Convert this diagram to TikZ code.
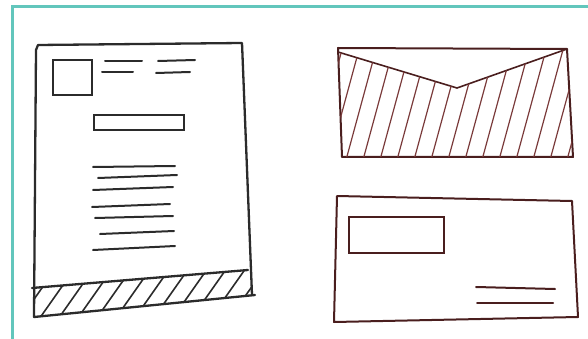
\documentclass[tikz,border=0pt]{standalone}
\usepackage{tikz}

\definecolor{framecol}{HTML}{62C6BC}
\definecolor{pencil}{HTML}{2B2B2B}
\definecolor{inkbrown}{HTML}{4A1E1E}
\definecolor{hatchbrown}{HTML}{7A3A3A}

\tikzset{
  outline/.style={line width=2.3pt, line join=round, line cap=round},
  textline/.style={line width=2pt, line cap=round},
  hatchline/.style={line width=1.2pt, line cap=round}
}

\begin{document}
\begin{tikzpicture}[x=1pt, y=-1pt]
\useasboundingbox (0,0) rectangle (588,339);

% frame of the photo, top and left edges
\draw[framecol, line width=3pt] (12,339) -- (12,7) -- (588,7);

% Letter page, left
\coordinate (pageTL) at (38,45);
\coordinate (pageTR) at (242,43);
\coordinate (pageBR) at (255,295);
\coordinate (pageBL) at (34,317);
\draw[pencil, outline] (pageBL) -- (36,50) -- (pageTL) -- (pageTR) -- (252,295);
\draw[pencil, outline] (32,288) -- (248,270);
\draw[pencil, outline] (pageBL) -- (pageBR);

% hatched footer
\begin{scope}
  \clip (34,288) -- (249,270) -- (252,295) -- (34,317) -- cycle;
  \foreach \x in {18,37,...,260}
    \draw[pencil, hatchline, line width=1.6pt] (\x,322) -- ++(38,-54);
\end{scope}

% logo box and header lines
\draw[pencil, line width=2pt] (53,60) rectangle (92,95);
\draw[pencil, textline] (105,61) -- (142,61);
\draw[pencil, textline] (158,61) -- (195,60);
\draw[pencil, textline] (102,72) -- (133,72);
\draw[pencil, textline] (156,73) -- (190,72);

% subject box
\draw[pencil, line width=2pt] (94,115) rectangle (184,130);

% body text
\draw[pencil, textline] (93,167) -- (175,166);
\draw[pencil, textline] (98,178) -- (177,175);
\draw[pencil, textline] (93,190) -- (173,187);
\draw[pencil, textline] (92,207) -- (170,204);
\draw[pencil, textline] (95,218) -- (173,216);
\draw[pencil, textline] (100,234) -- (174,231);
\draw[pencil, textline] (93,250) -- (175,246);

% Envelope, back side with flap
\coordinate (backTL) at (338,48);
\coordinate (backTR) at (567,49);
\coordinate (backBR) at (573,157);
\coordinate (backBL) at (342,157);
\coordinate (flapTip) at (457,88);
\draw[inkbrown, outline, line width=2pt] (backBL) -- (backTL) -- (backTR) -- (backBR) -- cycle;
\draw[inkbrown, line width=1.6pt, line cap=round] (338,52) -- (flapTip) -- (backTR);
\begin{scope}
  \clip (backBL) -- (338,52) -- (flapTip) -- (backTR) -- (backBR) -- cycle;
  \foreach \x in {312,329,...,590}
    \draw[hatchbrown, hatchline] (\x,160) -- ++(31,-114);
\end{scope}

% Envelope, front side with address window
\draw[inkbrown, outline, line width=2pt] (337,196) -- (572,201) -- (578,317) -- (334,322) -- cycle;
\draw[inkbrown, line width=2pt] (349,217) rectangle (444,253);
\draw[inkbrown, textline] (476,287) -- (555,289);
\draw[inkbrown, textline] (477,303) -- (553,303);

\end{tikzpicture}
\end{document}
